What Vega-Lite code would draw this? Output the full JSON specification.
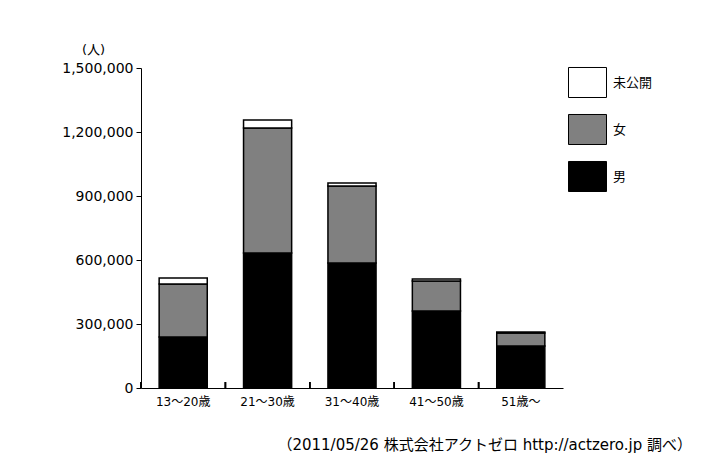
{
  "$schema": "https://vega.github.io/schema/vega-lite/v6.json",
  "autosize": "none",
  "width": 422,
  "height": 320,
  "padding": {"left": 141, "top": 68, "right": 139, "bottom": 73},
  "background": "white",
  "config": {
    "view": {"stroke": null},
    "font": "DejaVu Sans, Noto Sans CJK JP",
    "axis": {"grid": false, "domainColor": "black", "tickColor": "black", "labelColor": "black", "titleColor": "black", "labelFont": "DejaVu Sans, Noto Sans CJK JP", "titleFont": "DejaVu Sans, Noto Sans CJK JP"}
  },
  "title": {
    "text": "（2011/05/26 株式会社アクトゼロ http://actzero.jp 調べ）",
    "orient": "bottom",
    "anchor": "end",
    "frame": "group",
    "dx": 129,
    "offset": 31,
    "fontSize": 15,
    "fontWeight": "normal",
    "font": "DejaVu Sans, Noto Sans CJK JP",
    "color": "black"
  },
  "data": {
    "values": [
      {"age": "13〜20歳", "sex": "男", "k": 1, "n": 239000},
      {"age": "13〜20歳", "sex": "女", "k": 2, "n": 249000},
      {"age": "13〜20歳", "sex": "未公開", "k": 3, "n": 28000},
      {"age": "21〜30歳", "sex": "男", "k": 1, "n": 633000},
      {"age": "21〜30歳", "sex": "女", "k": 2, "n": 586000},
      {"age": "21〜30歳", "sex": "未公開", "k": 3, "n": 37000},
      {"age": "31〜40歳", "sex": "男", "k": 1, "n": 586000},
      {"age": "31〜40歳", "sex": "女", "k": 2, "n": 361000},
      {"age": "31〜40歳", "sex": "未公開", "k": 3, "n": 14000},
      {"age": "41〜50歳", "sex": "男", "k": 1, "n": 361000},
      {"age": "41〜50歳", "sex": "女", "k": 2, "n": 141000},
      {"age": "41〜50歳", "sex": "未公開", "k": 3, "n": 9000},
      {"age": "51歳〜", "sex": "男", "k": 1, "n": 197000},
      {"age": "51歳〜", "sex": "女", "k": 2, "n": 61000},
      {"age": "51歳〜", "sex": "未公開", "k": 3, "n": 4000}
    ]
  },
  "layer": [
    {
      "mark": {"type": "bar", "stroke": "black", "strokeWidth": 1.5},
      "encoding": {
        "x": {
          "field": "age",
          "type": "nominal",
          "sort": null,
          "scale": {"paddingInner": 0.43, "paddingOuter": 0.215},
          "axis": {
            "title": null,
            "labelAngle": 0,
            "labelFontSize": 12,
            "labelPadding": 8,
            "ticks": false,
            "domainWidth": 1
          }
        },
        "y": {
          "field": "n",
          "type": "quantitative",
          "stack": "zero",
          "scale": {"domain": [0, 1500000], "nice": false},
          "axis": {
            "values": [0, 300000, 600000, 900000, 1200000, 1500000],
            "format": ",d",
            "labelFontSize": 14,
            "tickSize": 5,
            "labelPadding": 3,
            "title": "(人)",
            "titleAngle": 0,
            "titleAlign": "center",
            "titleBaseline": "middle",
            "titleX": -48,
            "titleY": -19,
            "titleFontSize": 13,
            "titleFontWeight": "normal"
          }
        },
        "color": {
          "field": "sex",
          "type": "nominal",
          "scale": {"domain": ["未公開", "女", "男"], "range": ["white", "#808080", "black"]},
          "legend": {
            "title": null,
            "orient": "none",
            "legendX": 427,
            "legendY": -5,
            "symbolType": "M-1,-0.79H1V0.79H-1Z",
            "symbolSize": 1444,
            "symbolStrokeColor": "black",
            "symbolStrokeWidth": 1,
            "rowPadding": 10,
            "labelFontSize": 13,
            "labelOffset": 6,
            "labelColor": "black",
            "labelFont": "Noto Sans CJK JP"
          }
        },
        "order": {"field": "k", "type": "quantitative"}
      }
    },
    {
      "mark": {"type": "rule", "color": "black", "strokeWidth": 1.5},
      "encoding": {
        "x": {"field": "age", "type": "nominal", "sort": null, "bandPosition": -0.377},
        "y": {"datum": 0},
        "y2": {"datum": 28000}
      }
    }
  ]
}
